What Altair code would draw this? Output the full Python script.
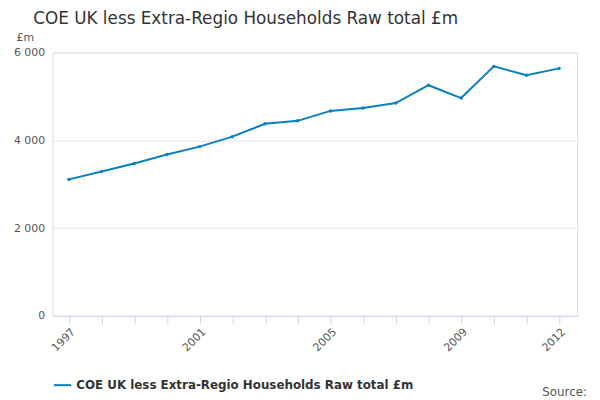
import pandas as pd
import altair as alt

years = list(range(1997, 2013))
values = [3110, 3290, 3470, 3677, 3857, 4083, 4376, 4444, 4670, 4737, 4850, 5256, 4963, 5685, 5482, 5640]
series = "COE UK less Extra-Regio Households Raw total £m"
label_years = [1997, 2001, 2005, 2009, 2012]

df = pd.DataFrame({"year": years, "value": values, "series": series})

base = alt.Chart(df)

line = base.mark_line(point=alt.OverlayMarkDef(size=12, filled=True), strokeWidth=2).encode(
    x=alt.X("year:Q", scale=alt.Scale(domain=[1996.5, 2012.55], nice=False, zero=False),
            axis=alt.Axis(values=years, title=None, grid=False, tickColor="#ccd6eb", domainColor="#ccd6eb",
                          labelAngle=-45, labelColor="#555", labelFontSize=11, tickSize=8,
                          labelExpr="indexof([1997,2001,2005,2009,2012], datum.value) >= 0 ? datum.value : ''")),
    y=alt.Y("value:Q", scale=alt.Scale(domain=[0, 6000], nice=False),
            axis=alt.Axis(values=[0, 2000, 4000, 6000], title="£m", titleAngle=0, titleX=-28, titleY=-10,
                          titleFontWeight="normal", titleColor="#555", titleFontSize=11,
                          labelExpr="replace(format(datum.value, ','), ',', ' ')",
                          labelColor="#555", labelFontSize=11, domain=False, ticks=False,
                          gridColor="#e6e6e6", labelPadding=8)),
    color=alt.Color("series:N", scale=alt.Scale(range=["#0a7fc2"]),
                    legend=alt.Legend(orient="bottom", title=None, symbolType="stroke", symbolStrokeWidth=2,
                                      labelFontSize=12, labelFontWeight="bold", labelColor="#333",
                                      symbolSize=300, offset=22, labelLimit=500)),
)

source = alt.Chart(pd.DataFrame({"t": ["Source:"]})).mark_text(
    align="right", fontSize=12, color="#555"
).encode(text="t:N", x=alt.value(540), y=alt.value(343))

chart = alt.layer(line, source).properties(
    width=530, height=266,
    title=alt.TitleParams("COE UK less Extra-Regio Households Raw total £m", fontSize=17, fontWeight="normal",
                          color="#333", anchor="start", offset=4, dx=20),
    padding={"left": 5, "top": 0, "right": 5, "bottom": 0},
).configure_view(stroke=None).configure(font="DejaVu Sans")

chart.save("out.html", embed_options={"renderer": "svg", "actions": False})
